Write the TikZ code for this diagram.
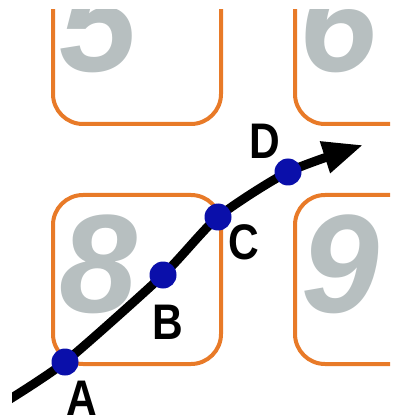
\documentclass[tikz,border=0pt]{standalone}
\usepackage{fontspec}
\setmainfont{Liberation Sans}
\usetikzlibrary{arrows.meta}
\definecolor{boxorange}{RGB}{232,122,40}
\definecolor{digitgrey}{RGB}{183,191,192}
\definecolor{dotblue}{RGB}{10,15,170}
\tikzset{
  keybox/.style={draw=boxorange, line width=4pt, rounded corners=30pt},
  digit/.style={text=digitgrey, font=\fontsize{140}{140}\selectfont\bfseries\itshape, anchor=base west, inner sep=0pt},
  dot/.style={circle, fill=dotblue, minimum size=27pt, inner sep=0pt},
  lbl/.style={font=\fontsize{50}{50}\selectfont\bfseries, inner sep=0pt, xscale=0.85, transform shape},
  track/.style={line width=9pt, -{Triangle[length=40pt, width=31pt]}}
}
\begin{document}
\begin{tikzpicture}[x=1pt, y=-1pt]
\useasboundingbox (0,0) rectangle (394,419);
\begin{scope}
\clip (0,10) rectangle (390,419);
\draw[keybox] (53,-45) rectangle (221,124);
\draw[keybox] (295,-45) rectangle (464,124);
\draw[keybox] (53,195) rectangle (221,364);
\draw[keybox] (295,195) rectangle (464,364);
\node[digit] (d5) at (59,72) {5};
\node[digit] (d6) at (299,72) {6};
\node[digit] (d8) at (59,312) {8};
\node[digit] (d9) at (301,312) {9};
\end{scope}
\coordinate (S) at (2,404);
\coordinate (pA) at (65,362);
\coordinate (pB) at (163,275);
\coordinate (pC) at (218,217);
\coordinate (pD) at (288,172);
\coordinate (T) at (363,145);
\begin{scope}
\clip (12,0) rectangle (394,419);
\draw[track] plot[smooth, tension=0.4] coordinates {(S) (pA) (pB) (pC) (pD) (T)};
\end{scope}
\node[dot] (A) at (pA) {};
\node[dot] (B) at (pB) {};
\node[dot] (C) at (pC) {};
\node[dot] (D) at (pD) {};
\node[lbl] (lA) at (82,398) {A};
\node[lbl] (lB) at (168,322) {B};
\node[lbl] (lC) at (244,242) {C};
\node[lbl] (lD) at (265,141) {D};
\end{tikzpicture}
\end{document}
